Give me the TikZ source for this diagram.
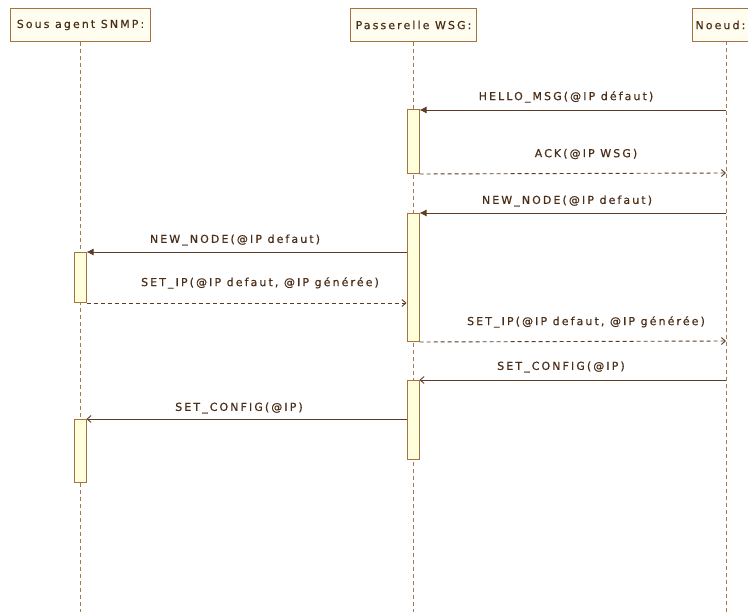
\documentclass[tikz,border=0pt]{standalone}
\usepackage{fontspec}
\setmainfont{DejaVu Sans}[LetterSpace=19, FakeBold=0.6]
\usetikzlibrary{arrows.meta}
\definecolor{boxline}{HTML}{A4733F}
\definecolor{boxfill}{HTML}{FFFDF0}
\definecolor{actfill}{HTML}{FFFFDC}
\definecolor{txt}{HTML}{4A2E18}
\definecolor{msg}{HTML}{5C3C24}
\definecolor{life}{HTML}{A87A4A}
\begin{document}
\begin{tikzpicture}[x=1pt,y=-1pt,
  head/.style={draw=boxline, fill=boxfill, line width=1pt, minimum height=33pt,
    inner sep=3pt, anchor=north west, text=txt, font=\fontsize{11}{13}\selectfont},
  act/.style={draw=boxline, fill=actfill, line width=1pt, minimum width=12pt,
    anchor=north, inner sep=0pt},
  lifeline/.style={draw=life, dash pattern=on 4pt off 3pt, line width=0.9pt},
  call/.style={draw=msg, line width=0.9pt, -{Latex[length=7pt,width=7pt]}},
  reply/.style={draw=msg, line width=0.9pt, dash pattern=on 4pt off 3pt,
    -{Straight Barb[length=4pt,width=7pt]}},
  signal/.style={draw=msg, line width=0.9pt, -{Straight Barb[length=4pt,width=7pt]}},
  lbl/.style={text=txt, font=\fontsize{11}{13}\selectfont, inner sep=0pt}
]
\fill[white] (0,0) rectangle (748,612);
\useasboundingbox (0,0) rectangle (748,612);

% participants
\node[head, minimum width=140pt] (snmp) at (10,8) {Sous agent SNMP:};
\node[head, minimum width=126pt] (wsg) at (350,8) {Passerelle WSG:};
\node[head, text width=64pt, align=left] (noeud) at (692,8) {Noeud:};
\coordinate (nl) at (726,41);

% lifelines
\draw[lifeline] (snmp.south) -- ++(0,571);
\draw[lifeline] (wsg.south) -- ++(0,571);
\draw[lifeline] (nl) -- ++(0,571);

% activation bars
\node[act, minimum height=64pt]  (a1) at (413,109) {};
\node[act, minimum height=128pt] (a2) at (413,213) {};
\node[act, minimum height=79pt]  (a3) at (413,380) {};
\node[act, minimum height=50pt]  (s1) at (80,252) {};
\node[act, minimum height=63pt]  (s2) at (80,419) {};

% lifeline anchors on the Noeud side
\coordinate (n1) at (726,110);
\coordinate (n2) at (726,173);
\coordinate (n3) at (726,213);
\coordinate (n4) at (726,341);
\coordinate (n5) at (726,380);

% messages
\draw[call] (n1) -- (n1 -| a1.east);
\node[lbl] at (566,97) {HELLO\_MSG(@IP défaut)};

\draw[reply] (a1.south east) -- (n2);
\node[lbl] at (586,154) {ACK(@IP WSG)};

\draw[call] (n3) -- (a2.north east);
\node[lbl] at (567,201) {NEW\_NODE(@IP defaut)};

\draw[call] (a2.west |- s1.north) -- (s1.north east);
\node[lbl] at (235,240) {NEW\_NODE(@IP defaut)};

\draw[reply] (s1.south east) -- (s1.south -| a2.west);
\node[lbl] at (260,283) {SET\_IP(@IP defaut, @IP générée)};

\draw[reply] (a2.south east) -- (n4);
\node[lbl] at (586,322) {SET\_IP(@IP defaut, @IP générée)};

\draw[signal] (n5) -- (a3.north east);
\node[lbl] at (561,367) {SET\_CONFIG(@IP)};

\draw[signal] (a3.west |- s2.north) -- (s2.north east);
\node[lbl] at (239,408) {SET\_CONFIG(@IP)};
\end{tikzpicture}
\end{document}
